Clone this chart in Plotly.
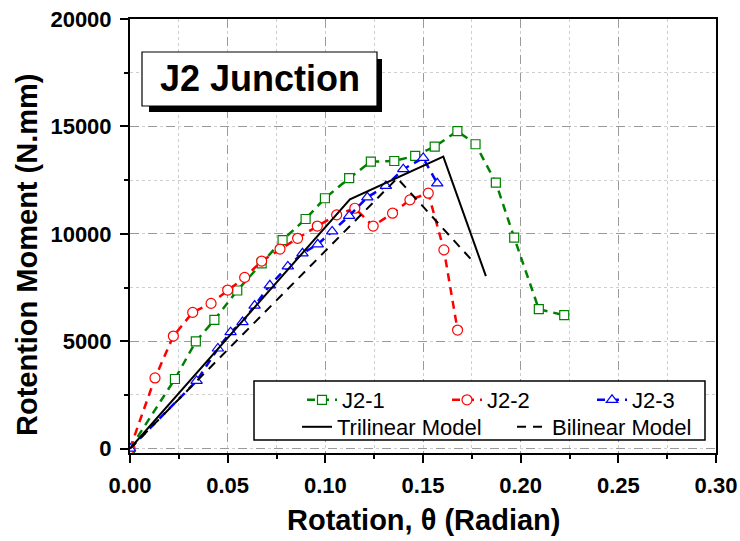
import plotly.graph_objects as go

# ---------------- data ----------------
theta_j21 = [0, 0.0230, 0.0337, 0.0432, 0.0549, 0.0674, 0.0781, 0.0899, 0.0998, 0.1122,
             0.1233, 0.1353, 0.1460, 0.1560, 0.1676, 0.1769, 0.1873, 0.1967, 0.2093, 0.2223]
moment_j21 = [0, 3240, 4990, 5990, 7360, 8625, 9710, 10690, 11655, 12590,
              13360, 13390, 13630, 14060, 14780, 14170, 12380, 9820, 6490, 6210]

theta_j22 = [0, 0.0128, 0.0222, 0.0321, 0.0415, 0.0500, 0.0587, 0.0674, 0.0768, 0.0858,
             0.0959, 0.1058, 0.1151, 0.1245, 0.1344, 0.1433, 0.1527, 0.1607, 0.1677]
moment_j22 = [0, 3290, 5240, 6340, 6760, 7380, 7970, 8730, 9290, 9790,
              10360, 10880, 11190, 10360, 10960, 11580, 11890, 9250, 5520]

theta_j23 = [0, 0.0341, 0.0450, 0.0515, 0.0576, 0.0638, 0.0716, 0.0808, 0.0883, 0.0961,
             0.1035, 0.1122, 0.1215, 0.1310, 0.1399, 0.1501, 0.1573]
moment_j23 = [0, 3150, 4660, 5420, 5890, 6660, 7600, 8480, 9090, 9510,
              10110, 10830, 11700, 12230, 13010, 13530, 12350]

theta_tri = [0, 0.1126, 0.1604, 0.1822]
moment_tri = [0, 11610, 13590, 8030]

theta_bi = [0, 0.1368, 0.1757]
moment_bi = [0, 12590, 8700]

x_ticks = [0.00, 0.05, 0.10, 0.15, 0.20, 0.25, 0.30]
y_ticks = [0, 5000, 10000, 15000, 20000]

# ---------------- layout helpers (pixel -> paper) ----------------
W, H = 740, 541
PL, PR, PT, PB = 130, 716, 19, 453


def px(x):
    return (x - PL) / (PR - PL)


def py(y):
    return (PB - y) / (PB - PT)


FONT = "Liberation Sans, Arial, sans-serif"

fig = go.Figure()

fig.add_trace(go.Scatter(
    x=theta_j21, y=moment_j21, name="J2-1", mode="lines+markers",
    line=dict(color="#008000", width=2.5, dash="8px,6px"),
    marker=dict(symbol="square", size=9, color="white",
                line=dict(color="#008000", width=1.2)),
    legend="legend", legendwidth=100))
fig.add_trace(go.Scatter(
    x=theta_j22, y=moment_j22, name="J2-2", mode="lines+markers",
    line=dict(color="#FF0000", width=2.5, dash="8px,6px"),
    marker=dict(symbol="circle", size=10, color="white",
                line=dict(color="#FF0000", width=1.2)),
    legend="legend", legendwidth=100))
fig.add_trace(go.Scatter(
    x=theta_j23, y=moment_j23, name="J2-3", mode="lines+markers",
    line=dict(color="#0000FF", width=2.5, dash="8px,6px"),
    marker=dict(symbol="triangle-up", size=10, color="white",
                line=dict(color="#0000FF", width=1.2)),
    legend="legend", legendwidth=50))
fig.add_trace(go.Scatter(
    x=theta_tri, y=moment_tri, name="Trilinear Model", mode="lines",
    line=dict(color="black", width=2),
    legend="legend2", legendwidth=170))
fig.add_trace(go.Scatter(
    x=theta_bi, y=moment_bi, name="Bilinear Model", mode="lines",
    line=dict(color="black", width=2, dash="9px,7px"),
    legend="legend2", legendwidth=140))

axis_common = dict(
    showline=True, linecolor="black", linewidth=2, mirror=True,
    ticks="outside", ticklen=8, tickwidth=1.5, tickcolor="black",
    showgrid=True, gridcolor="#9a9a9a", gridwidth=1, griddash="dash",
    zeroline=False,
    tickfont=dict(family=FONT, size=22, color="black", weight="bold"),
)

fig.update_xaxes(
    range=[0, 0.30], tickvals=x_ticks, tickformat=".2f",
    ticklabelstandoff=4,
    minor=dict(dtick=0.025, ticks="outside", ticklen=4, tickcolor="black",
               showgrid=True, gridcolor="#cfcfcf", griddash="dot", gridwidth=1),
    **axis_common)
fig.update_yaxes(
    range=[-205, 20000], tickvals=y_ticks, tickformat="d",
    ticklabelstandoff=4,
    minor=dict(dtick=2500, ticks="outside", ticklen=4, tickcolor="black",
               showgrid=True, gridcolor="#cfcfcf", griddash="dot", gridwidth=1),
    **axis_common)

shapes = [
    # legend frame
    dict(type="rect", xref="paper", yref="paper",
         x0=px(254), x1=px(705), y0=py(440), y1=py(381),
         line=dict(color="black", width=1.5), fillcolor="white", layer="above"),
    # title box shadow
    dict(type="rect", xref="paper", yref="paper",
         x0=px(149), x1=px(382), y0=py(112), y1=py(59),
         line=dict(width=0), fillcolor="black", layer="above"),
    # title box
    dict(type="rect", xref="paper", yref="paper",
         x0=px(142), x1=px(377), y0=py(106), y1=py(52),
         line=dict(color="black", width=1.2), fillcolor="white", layer="above"),
]

annotations = [
    dict(text="J2 Junction", xref="paper", yref="paper",
         x=px(259.5), y=py(78), xanchor="center", yanchor="middle",
         showarrow=False,
         font=dict(family=FONT, size=36, color="black", weight="bold")),
    dict(text="Rotation, θ (Radian)", xref="paper", yref="paper",
         x=px(423), y=py(520), xanchor="center", yanchor="middle",
         showarrow=False,
         font=dict(family=FONT, size=29, color="black", weight="bold")),
    dict(text="Rotention Moment (N.mm)", xref="paper", yref="paper",
         x=px(27), y=py(255), xanchor="center", yanchor="middle",
         textangle=-90, showarrow=False,
         font=dict(family=FONT, size=29, color="black", weight="bold")),
]

legend_common = dict(
    orientation="h", bgcolor="rgba(0,0,0,0)", borderwidth=0,
    font=dict(family=FONT, size=22, color="black"),
    xanchor="left", yanchor="middle", itemclick=False, itemdoubleclick=False,
    entrywidthmode="pixels",
)

fig.update_layout(
    width=W, height=H,
    margin=dict(l=PL, r=W - PR, t=PT, b=H - PB, autoexpand=False),
    paper_bgcolor="white", plot_bgcolor="white",
    showlegend=True,
    legend=dict(x=px(302), y=py(400), **legend_common),
    legend2=dict(x=px(297), y=py(427), **legend_common),
    shapes=shapes, annotations=annotations,
)

fig.write_html("out.html")
